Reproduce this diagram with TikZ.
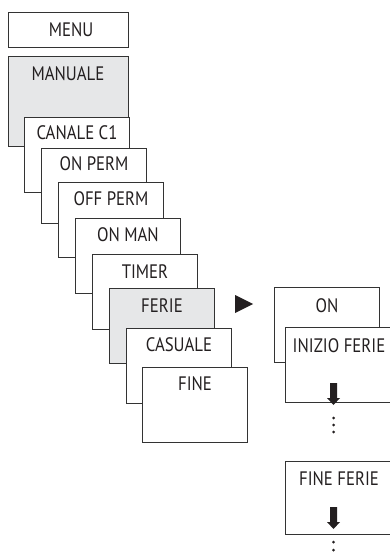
\documentclass[tikz,border=0pt]{standalone}
\usepackage{fontspec}
\setmainfont{PT Sans}[FakeStretch=0.86]
\usetikzlibrary{calc}
\definecolor{edge}{HTML}{333333}
\definecolor{shade}{HTML}{E6E7E8}
\definecolor{ink}{HTML}{231F20}
\tikzset{
  box/.style={draw=edge, line width=1pt, fill=white, anchor=north west, inner sep=0pt, minimum width=105pt, minimum height=75pt},
  graybox/.style={box, fill=shade},
  lbl/.style={anchor=base, inner sep=0pt, font=\fontsize{19.5}{19.5}\selectfont, text=ink},
  dot/.style={circle, fill=ink, inner sep=0pt, minimum size=3pt},
}
\begin{document}
\begin{tikzpicture}[x=1pt,y=-1pt]
\useasboundingbox (0,0) rectangle (390,553);
\clip (0,0) rectangle (390,553);
% left column
\node[box, minimum width=120pt, minimum height=35pt] (menu) at (8,12) {};
\node[lbl] (menuT) at (71,37) {MENU};
\node[graybox, minimum width=120pt, minimum height=90pt] (manuale) at (8,56) {};
\node[lbl] (manualeT) at (68,81) {MANUALE};
\node[box] (canale) at (24,117) {};
\node[lbl] (canaleT) at ($(canale.north)+(0,23)$) {CANALE C1};
\node[box] (onperm) at (41,148) {};
\node[lbl] (onpermT) at ($(onperm.north)+(0,23)$) {ON PERM};
\node[box] (offperm) at (58,182) {};
\node[lbl] (offpermT) at ($(offperm.north)+(0,23)$) {OFF PERM};
\node[box] (onman) at (75,218) {};
\node[lbl] (onmanT) at ($(onman.north)+(0,23)$) {ON MAN};
\node[box] (timer) at (92,254) {};
\node[lbl] (timerT) at ($(timer.north)+(0,24)$) {TIMER};
\node[graybox] (ferie) at (109,288) {};
\node[lbl] (ferieT) at ($(ferie.north)+(0,24)$) {FERIE};
\node[box] (casuale) at (126,328) {};
\node[lbl] (casualeT) at ($(casuale.north)+(0,23)$) {CASUALE};
\node[box] (fine) at (142,367) {};
\node[lbl] (fineT) at ($(fine.north)+(0,23)$) {FINE};
% pointer
\fill[ink] (235,295) -- (253,304) -- (235,313) -- cycle;
% right column
\node[box] (on) at (274,287) {};
\node[lbl] (onT) at ($(on.north)+(0,25)$) {ON};
\node[box, minimum width=107pt] (inizio) at (285,327) {};
\node[lbl] (inizioT) at ($(inizio.north)+(0,25)$) {INIZIO FERIE};
\node[box, minimum width=107pt, minimum height=73pt] (fineferie) at (285,461) {};
\node[lbl] (fineferieT) at ($(fineferie.north)+(0,24)$) {FINE FERIE};
% arrows
\coordinate (a1) at (333.5,383);
\fill[ink] (a1) ++(-3.5,0) -- ++(7,0) -- ++(0,15) -- ++(3,0) -- (333.5,405) -- (327,398) -- ++(3,0) -- cycle;
\coordinate (a2) at (333.5,507);
\fill[ink] (a2) ++(-3.5,0) -- ++(7,0) -- ++(0,15) -- ++(3,0) -- (333.5,529) -- (327,522) -- ++(3,0) -- cycle;
% dots
\node[dot] (d1) at (333.5,418) {};
\node[dot] (d2) at (333.5,425) {};
\node[dot] (d3) at (333.5,432) {};
\node[dot] (d4) at (333.5,542) {};
\node[dot] (d5) at (333.5,550) {};
\end{tikzpicture}
\end{document}
